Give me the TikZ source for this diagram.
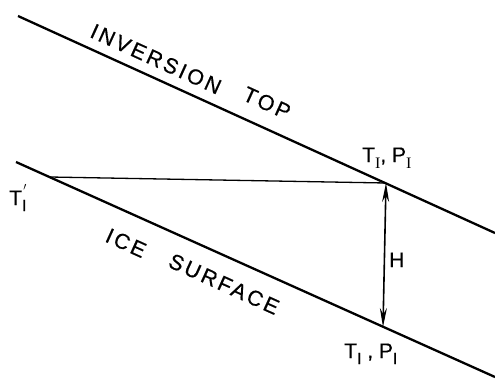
\documentclass[tikz,border=0pt]{standalone}
\usepackage{fontspec}
\setmainfont{Liberation Sans}
\newfontfamily\serifI{Liberation Serif}
\usetikzlibrary{arrows.meta}
\newcommand{\subI}[1]{\raisebox{-6pt}{\fontsize{16}{16}\selectfont #1}}
\begin{document}
\begin{tikzpicture}[x=1pt,y=-1pt,line join=round,
  surf/.style={line width=2.3pt},
  lbl/.style={font=\fontsize{21.5}{22}\selectfont\addfontfeature{LetterSpace=13,FakeBold=0.6}, inner sep=0pt, rotate=-24.4},
  tp/.style={font=\fontsize{21}{21}\selectfont\addfontfeature{FakeBold=0.4}, inner sep=0pt, anchor=base west}]
\useasboundingbox (0,0) rectangle (495,378);
\coordinate (ua) at (18,16);
\coordinate (ub) at (495,233);
\coordinate (la) at (16,162);
\coordinate (lb) at (495,377);
\coordinate (apex) at (386,183);
\coordinate (foot) at (383,327);
\coordinate (lft) at (50,177);
\draw[surf] (ua) -- (ub);
\draw[surf] (la) -- (lb);
\draw[line width=1.3pt] (lft) -- (apex);
\draw[line width=1.6pt,{Stealth[length=19pt,width=7pt]}-{Stealth[length=19pt,width=7pt]}] (apex) -- (foot);
\node[lbl] (inv) at (156,59) {INVERSION};
\node[lbl] (topw) at (267,103) {TOP};
\node[lbl] (ice) at (126,243) {ICE};
\node[lbl] (surfw) at (224,284) {SURFACE};
\node[tp] (tpi) at (362,162) {T\subI{\serifI I}, P\subI{\serifI I}};
\node[tp] (tpl) at (344,358) {T\subI{I} , P\subI{I}};
\node[tp] (tprime) at (9,205) {T\subI{I}\kern-3pt\raisebox{8pt}{\fontsize{16}{16}\selectfont$'$}};
\node[tp] (h) at (389,267) {H};
\end{tikzpicture}
\end{document}
